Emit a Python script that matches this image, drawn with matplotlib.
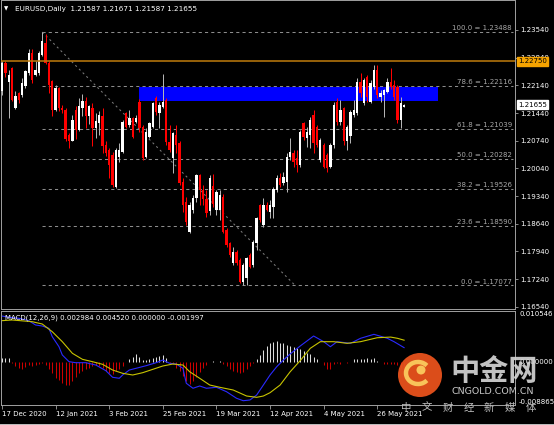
import numpy as np
import matplotlib
matplotlib.use("Agg")
import matplotlib.pyplot as plt
import matplotlib.transforms as mtransforms
from matplotlib.patches import Rectangle, Circle, Arc

plt.rcParams['font.family'] = ['DejaVu Sans', 'Noto Sans CJK SC']

# daily EURUSD bars, 17 Dec 2020 .. current bar
opens = [1.2199, 1.2271, 1.2222, 1.2258, 1.2157, 1.2195, 1.2190, 1.2212, 1.2245, 1.2296,
         1.2241, 1.2245, 1.2292, 1.2321, 1.2271, 1.2224, 1.2152, 1.2207, 1.2157, 1.2152,
         1.2089, 1.2074, 1.2152, 1.2102, 1.2157, 1.2174, 1.2136, 1.2157, 1.2106, 1.2119,
         1.2136, 1.2063, 1.2050, 1.2038, 1.1958, 1.2033, 1.2046, 1.2143, 1.2114, 1.2131,
         1.2122, 1.2173, 1.2109, 1.2033, 1.2084, 1.2109, 1.2181, 1.2143, 1.2160, 1.2177,
         1.2071, 1.2029, 1.2088, 1.2067, 1.1970, 1.1920, 1.1844, 1.1899, 1.1928, 1.1987,
         1.1950, 1.1927, 1.1895, 1.1960, 1.1899, 1.1899, 1.1932, 1.1848, 1.1814, 1.1764,
         1.1793, 1.1772, 1.1717, 1.1726, 1.1785, 1.1759, 1.1814, 1.1911, 1.1861, 1.1911,
         1.1894, 1.1907, 1.1949, 1.1979, 1.1966, 1.1970, 1.2033, 1.2042, 1.2029, 1.2012,
         1.2118, 1.2080, 1.2088, 1.2139, 1.2109, 1.2025, 1.2063, 1.2038, 1.2008, 1.2063,
         1.2173, 1.2122, 1.2156, 1.2072, 1.2085, 1.2139, 1.2143, 1.2223, 1.2169, 1.2236,
         1.2173, 1.2211, 1.2253, 1.2185, 1.2190, 1.2198, 1.2223, 1.2215, 1.2211, 1.2126,
         1.21587]
highs = [1.2275, 1.2275, 1.2254, 1.2261, 1.2199, 1.2198, 1.2232, 1.2254, 1.2307, 1.2305,
         1.2275, 1.2301, 1.2349, 1.2345, 1.2275, 1.2228, 1.2215, 1.2211, 1.2164, 1.2156,
         1.2093, 1.2139, 1.2161, 1.2182, 1.2191, 1.2184, 1.2165, 1.2170, 1.2144, 1.2149,
         1.2157, 1.2072, 1.2055, 1.2046, 1.2055, 1.2067, 1.2126, 1.2147, 1.2152, 1.2135,
         1.2139, 1.2180, 1.2113, 1.2105, 1.2122, 1.2173, 1.2186, 1.2173, 1.2243, 1.2182,
         1.2114, 1.2097, 1.2114, 1.2072, 1.1979, 1.1932, 1.1920, 1.1937, 1.1990, 1.1990,
         1.1962, 1.1950, 1.1987, 1.1990, 1.1949, 1.1949, 1.1940, 1.1852, 1.1818, 1.1806,
         1.1797, 1.1776, 1.1764, 1.1780, 1.1789, 1.1822, 1.1882, 1.1915, 1.1928, 1.1920,
         1.1924, 1.1958, 1.1987, 1.1992, 1.1996, 1.2042, 1.2080, 1.2050, 1.2050, 1.2101,
         1.2122, 1.2109, 1.2135, 1.2152, 1.2113, 1.2080, 1.2067, 1.2042, 1.2067, 1.2173,
         1.2181, 1.2177, 1.2160, 1.2113, 1.2152, 1.2177, 1.2232, 1.2244, 1.2232, 1.2240,
         1.2227, 1.2266, 1.2266, 1.2202, 1.2206, 1.2232, 1.2257, 1.2227, 1.2215, 1.2185,
         1.21671]
lows = [1.2190, 1.2234, 1.2131, 1.2175, 1.2154, 1.2170, 1.2185, 1.2208, 1.2240, 1.2220,
        1.2237, 1.2240, 1.2287, 1.2267, 1.2194, 1.2136, 1.2148, 1.2148, 1.2143, 1.2073,
        1.2055, 1.2073, 1.2077, 1.2098, 1.2136, 1.2106, 1.2115, 1.2060, 1.2081, 1.2089,
        1.2043, 1.2034, 1.1979, 1.1958, 1.1954, 1.2021, 1.2042, 1.2105, 1.2109, 1.2080,
        1.2118, 1.2097, 1.2025, 1.2029, 1.2080, 1.2105, 1.2139, 1.2105, 1.2156, 1.2063,
        1.2046, 1.1991, 1.2042, 1.1962, 1.1894, 1.1861, 1.1840, 1.1892, 1.1920, 1.1912,
        1.1912, 1.1880, 1.1885, 1.1906, 1.1886, 1.1873, 1.1840, 1.1806, 1.1781, 1.1759,
        1.1759, 1.1713, 1.17077, 1.1709, 1.1751, 1.1755, 1.1797, 1.1869, 1.1856, 1.1895,
        1.1878, 1.1878, 1.1945, 1.1958, 1.1962, 1.1945, 1.2025, 1.2008, 1.1996, 1.2008,
        1.2076, 1.2059, 1.2055, 1.2042, 1.2059, 1.2021, 1.2004, 1.1995, 1.2004, 1.2055,
        1.2114, 1.2114, 1.2063, 1.2051, 1.2068, 1.2135, 1.2139, 1.2185, 1.2164, 1.2173,
        1.2169, 1.2206, 1.2181, 1.2173, 1.2135, 1.2194, 1.2206, 1.2177, 1.2118, 1.2105,
        1.21587]
closes = [1.2271, 1.2245, 1.2241, 1.2178, 1.2186, 1.2178, 1.2220, 1.2250, 1.2296, 1.2228,
          1.2254, 1.2296, 1.2325, 1.2271, 1.2216, 1.2152, 1.2207, 1.2157, 1.2152, 1.2077,
          1.2074, 1.2127, 1.2102, 1.2161, 1.2174, 1.2136, 1.2161, 1.2106, 1.2123, 1.2138,
          1.2060, 1.2042, 1.2012, 1.1962, 1.2050, 1.2050, 1.2122, 1.2109, 1.2131, 1.2084,
          1.2131, 1.2105, 1.2029, 1.2097, 1.2118, 1.2169, 1.2147, 1.2164, 1.2173, 1.2071,
          1.2050, 1.2093, 1.2063, 1.1966, 1.1911, 1.1869, 1.1911, 1.1928, 1.1987, 1.1950,
          1.1927, 1.1890, 1.1980, 1.1915, 1.1945, 1.1937, 1.1844, 1.1810, 1.1785, 1.1793,
          1.1764, 1.1717, 1.1759, 1.1776, 1.1755, 1.1818, 1.1878, 1.1873, 1.1911, 1.1899,
          1.1911, 1.1953, 1.1979, 1.1962, 1.1983, 1.2033, 1.2046, 1.2021, 1.2012, 1.2097,
          1.2084, 1.2097, 1.2126, 1.2067, 1.2063, 1.2076, 1.2008, 1.2004, 1.2063, 1.2164,
          1.2122, 1.2152, 1.2072, 1.2109, 1.2147, 1.2152, 1.2223, 1.2194, 1.2228, 1.2185,
          1.2219, 1.2253, 1.2190, 1.2194, 1.2202, 1.2223, 1.2211, 1.2185, 1.2126, 1.2169,
          1.21655]

# MACD(12,26,9) histogram, one value per bar
macd_hist = [0.0009, 0.0008, 0.0008, -0.0001, -0.0008, -0.0012, -0.0014, -0.0011, -0.0006, -0.0008,
             -0.0006, -0.0003, -0.0002, -0.0006, -0.0015, -0.0023, -0.0032, -0.0037, -0.0043, -0.0047,
             -0.0048, -0.0040, -0.0030, -0.0023, -0.0019, -0.0015, -0.0012, -0.0008, -0.0006, -0.0008,
             -0.0012, -0.0018, -0.0022, -0.0025, -0.0019, -0.0015, -0.0008, 0.0001, 0.0006, 0.0011,
             0.0016, 0.0011, 0.0005, 0.0004, 0.0006, 0.0008, 0.0010, 0.0012, 0.0015, 0.0008,
             -0.0001, -0.0005, -0.0012, -0.0019, -0.0029, -0.0039, -0.0045, -0.0040, -0.0030, -0.0021,
             -0.0012, -0.0006, 0.0, 0.0002, 0.0, 0.0002, -0.0003, -0.0008, -0.0014, -0.0018,
             -0.0021, -0.0023, -0.0021, -0.0015, -0.0008, -0.0001, 0.0006, 0.0015, 0.0025, 0.0033,
             0.0039, 0.0041, 0.0043, 0.0040, 0.0039, 0.0036, 0.0034, 0.0032, 0.0030, 0.0026,
             0.0023, 0.0019, 0.0016, 0.0011, 0.0006, 0.0001, -0.0007, -0.0015, -0.0014, -0.0005,
             -0.0001, -0.0003, 0.0, -0.0001, 0.0, 0.0006, 0.0006, 0.0007, 0.0007, 0.0008,
             0.0007, 0.0008, 0.0003, 0.0, -0.0003, -0.0003, -0.0005, -0.0005, -0.0007, -0.0012,
             -0.0020]
macd_bars = [0, 2, 5, 8, 10, 12, 14, 15, 17, 18, 20, 22, 25, 28, 31, 33, 35, 36, 38, 40,
             43, 46, 48, 50, 52, 54, 55, 57, 59, 61, 64, 67, 70, 72, 74, 76, 78, 80, 82, 84,
             86, 89, 93, 96, 98, 100, 104, 107, 111, 115, 117, 120]
macd_line = [0.00951, 0.00925, 0.00904, 0.00855, 0.00766, 0.00745, 0.00697, 0.00524, 0.00317, 0.00146,
             0.00008, -0.00013, -0.00013, -0.00061, -0.00178, -0.00314, -0.00335, -0.00267, -0.00164, -0.00129,
             -0.00075, -0.00013, 0.00043, -0.00025, -0.00040, -0.00129, -0.00438, -0.00541, -0.00494, -0.00541,
             -0.00521, -0.00612, -0.00748, -0.00798, -0.00783, -0.00680, -0.00474, -0.00267, -0.00095, 0.00043,
             0.00167, 0.00332, 0.00538, 0.00421, 0.00317, 0.00421, 0.00387, 0.00491, 0.00573, 0.00491,
             0.00421, 0.00298]
signal_bars = [0, 3, 9, 12, 15, 18, 21, 24, 27, 30, 33, 36, 39, 42, 45, 48, 51, 54, 56, 59,
               62, 65, 69, 73, 76, 78, 80, 83, 86, 89, 92, 95, 99, 103, 107, 112, 116, 118, 120]
signal_line = [0.00855, 0.00869, 0.00834, 0.00786, 0.00627, 0.00421, 0.00181, 0.00057, 0.00008, -0.00046,
               -0.00164, -0.00232, -0.00267, -0.00219, -0.00150, -0.00081, -0.00040, -0.00061, -0.00199, -0.00335,
               -0.00474, -0.00521, -0.00577, -0.00701, -0.00728, -0.00701, -0.00632, -0.00474, -0.00200, 0.00030,
               0.00284, 0.00421, 0.00421, 0.00387, 0.00421, 0.00503, 0.00516, 0.00491, 0.00452]

date_bars = [0, 16, 32, 48, 64, 80, 96, 112]
date_labels = ['17 Dec 2020', '12 Jan 2021', '3 Feb 2021', '25 Feb 2021',
               '19 Mar 2021', '12 Apr 2021', '4 May 2021', '26 May 2021']
price_ticks = [1.23540, 1.22840, 1.22140, 1.21440, 1.20740, 1.20040,
               1.19340, 1.18640, 1.17940, 1.17240, 1.16540]

fib_names = ['100.0', '78.6', '61.8', '50.0', '38.2', '23.6', '0.0']
fib_levels = [1.23488, 1.22116, 1.21039, 1.20282, 1.19526, 1.18590, 1.17077]
fib_start, fib_end = 12, 87.5
resistance = 1.22750
zone_low, zone_high = 1.2175, 1.2209
zone_start, zone_end = 41, 130
macd_max, macd_min = 0.010546, -0.008865
macd_title = 'MACD(12,26,9) 0.002984 0.004520 0.000000 -0.001997'

W, H = 554, 425


def px_rect(l, t, r, b):
    return [l / W, 1 - b / H, (r - l) / W, (b - t) / H]


fig = plt.figure(figsize=(W / 100, H / 100), dpi=100, facecolor='black')
ax = fig.add_axes(px_rect(1, 0.5, 515, 308.5))
ax2 = fig.add_axes(px_rect(1, 311, 515, 405))
grey = '#a0a0a0'

for a in (ax, ax2):
    a.set_facecolor('black')
    a.set_xlim(-0.3, 153.1)
    for s in a.spines.values():
        s.set_color(grey)
        s.set_linewidth(0.7)

# ---- price panel
o = np.array(opens); h = np.array(highs); l = np.array(lows); c = np.array(closes)
x = np.arange(len(c))
up = c >= o
ax.set_ylim(1.16495, 1.24286)
ax.add_patch(Rectangle((zone_start, zone_low), zone_end - zone_start, zone_high - zone_low,
                       facecolor='#0000ff', edgecolor='none', zorder=1))
ax.hlines(fib_levels, fib_start, 152.5, colors='#8c8c8c', linestyles=(0, (3, 3)), lw=0.75, zorder=2)
ax.plot([fib_start, fib_end], [fib_levels[0], fib_levels[-1]], color='#7a7a7a',
        ls=(0, (2, 3)), lw=0.75, zorder=2)
for name, lv in zip(fib_names, fib_levels):
    ax.text(152.2, lv + 0.0005, f'{name} = {lv:.5f}', ha='right', va='baseline',
            fontsize=5, color='#a8a8a8', zorder=6)

ax.vlines(x, l, h, colors=np.where(up, '#b4b4b4', '#ff0000'), lw=0.72, zorder=3)
ax.bar(x, np.maximum(np.abs(c - o), 0.00008), bottom=np.minimum(o, c), width=0.7,
       color=np.where(up, '#ffffff', '#ff0000'), lw=0, zorder=4)
ax.axhline(resistance, color='#c07c0c', lw=1.1, zorder=5)

ax.set_xticks([])
ax.yaxis.tick_right()
ax.set_yticks(price_ticks)
ax.set_yticklabels([f'{v:.5f}' for v in price_ticks])
ax.tick_params(axis='y', length=2, width=0.6, color=grey, labelcolor='white',
               labelsize=5, pad=1.5)

blend = mtransforms.blended_transform_factory(ax.transAxes, ax.transData)
ax.text(1.006, resistance, f'{resistance:.5f}', transform=blend, fontsize=5, color='black',
        va='center', ha='left', zorder=7, clip_on=False,
        bbox=dict(boxstyle='square,pad=0.2', fc='#f5a300', ec='#f5a300'))
ax.text(1.006, closes[-1], f'{closes[-1]:.5f}', transform=blend, fontsize=5, color='black',
        va='center', ha='left', zorder=7, clip_on=False,
        bbox=dict(boxstyle='square,pad=0.2', fc='white', ec='white'))

# ---- MACD panel
ax2.set_ylim(macd_min, macd_max)
hist = np.array(macd_hist)
ax2.vlines(x, 0, hist, colors=np.where(hist >= 0, '#dcdcdc', '#cc0000'), lw=0.75)
ax2.plot(macd_bars, macd_line, color='#2a2aff', lw=0.8)
ax2.plot(signal_bars, signal_line, color='#c8c400', lw=0.8)
ax2.set_yticks([])
ax2.set_xticks(date_bars)
ax2.set_xticklabels(date_labels, ha='left')
ax2.tick_params(axis='x', length=3, width=0.6, color=grey, labelcolor='white',
                labelsize=5, pad=1.5)
blend2 = mtransforms.blended_transform_factory(ax2.transAxes, ax2.transData)
ax2.text(1.008, macd_max, f'{macd_max:.6f}', transform=blend2, fontsize=5, color='white',
         va='top', ha='left', clip_on=False)
ax2.text(1.008, 0, '0.000000', transform=blend2, fontsize=5, color='white',
         va='center', ha='left', clip_on=False)
ax2.text(1.008, macd_min, f'{macd_min:.6f}', transform=blend2, fontsize=5, color='white',
         va='bottom', ha='left', clip_on=False)
ax2.text(0.008, 0.93, macd_title, transform=ax2.transAxes, fontsize=5, color='white',
         va='center', ha='left')

# ---- overlay: title and watermark
ov = fig.add_axes([0, 0, 1, 1])
ov.set_xlim(0, W)
ov.set_ylim(H, 0)
ov.axis('off')
ov.patch.set_alpha(0)
ov.text(4, 9, '\u25bc', fontsize=4, color='white', va='center')
ov.text(15, 9, f'EURUSD,Daily  {opens[-1]:.5f} {highs[-1]:.5f} {lows[-1]:.5f} {closes[-1]:.5f}',
        fontsize=5.2, color='white', va='center')
ov.plot([0, W], [423.5, 423.5], color='#c0c0c0', lw=0.7)

ov.add_patch(Circle((420, 375), 22, fc='#e8521c', ec='none', alpha=0.95))
ov.add_patch(Arc((418, 373), 24, 22, theta1=40, theta2=320, color='#f8c45a', lw=3.2))
ov.add_patch(Circle((421, 370), 4.5, fc='#f8c45a', ec='none'))
ov.text(494, 371, '中金网', fontsize=21, fontweight='bold', color='#d4d4d4', alpha=0.92,
        family=['Noto Sans CJK SC'], ha='center', va='center')
ov.text(493, 392, 'CNGOLD.COM.CN', fontsize=6.8, color='#c8c8c8', ha='center', va='center')
for k, ch in enumerate('中文财经新媒体'):
    ov.text(406 + 20.8 * k, 407.5, ch, fontsize=7.5, color='#bebebe',
            family=['Noto Sans CJK SC'], ha='center', va='center')

fig.savefig('out.png', dpi=100, facecolor='black')
